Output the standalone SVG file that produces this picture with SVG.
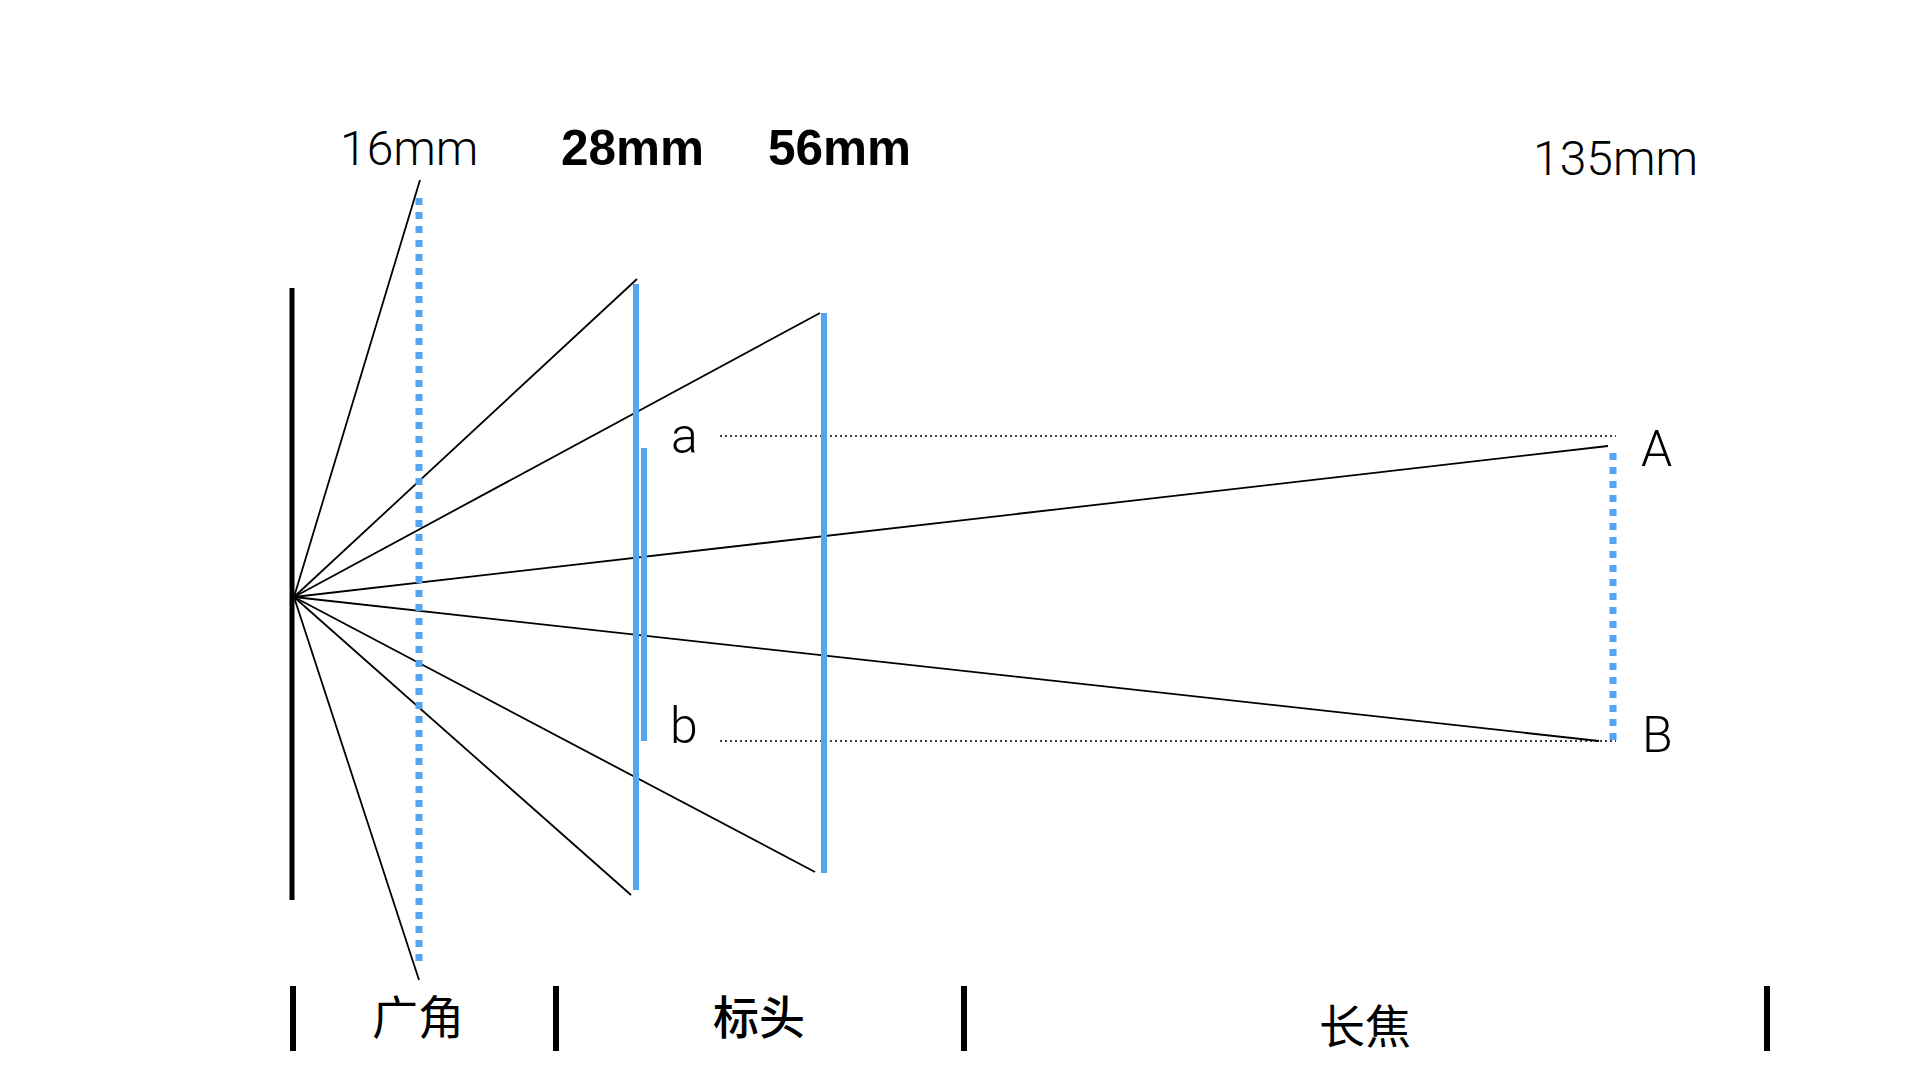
<svg xmlns="http://www.w3.org/2000/svg" width="1920" height="1080" viewBox="0 0 1920 1080">
<style>
.ray{stroke:#000;stroke-width:1.8;fill:none}
.bar{stroke:#000;stroke-width:6;fill:none}
.sensor{stroke:#55a4f1;stroke-width:6;fill:none}
.sensordot{stroke:#55a4f1;stroke-width:7;stroke-dasharray:7 7;fill:none}
.guide{stroke:#000;stroke-width:1.6;stroke-dasharray:2 3;fill:none}
.lbl{font-family:Roboto,"Liberation Sans",sans-serif;font-weight:300;font-size:48px;fill:#000}
.lblb{font-family:"Liberation Sans",Arial,sans-serif;font-weight:bold;font-size:49.5px;fill:#000}
.pt{font-family:Roboto,"Liberation Sans",sans-serif;font-weight:300;font-size:50px;fill:#000}
.cjk{font-family:"Noto Sans CJK SC",sans-serif;font-size:46px;fill:#000;text-anchor:middle}
</style>
<g id="connectors">
<line class="ray" x1="294" y1="597" x2="420" y2="180"/>
<line class="ray" x1="294" y1="597" x2="419" y2="980"/>
<line class="ray" x1="294" y1="597" x2="637" y2="279"/>
<line class="ray" x1="294" y1="597" x2="631" y2="895"/>
<line class="ray" x1="294" y1="597" x2="820" y2="313"/>
<line class="ray" x1="294" y1="597" x2="815" y2="872"/>
<line class="ray" x1="294" y1="597" x2="1608" y2="446"/>
<line class="ray" x1="294" y1="597" x2="1599" y2="741"/>
<line class="guide" x1="720" y1="436" x2="1616" y2="436"/>
<line class="guide" x1="720" y1="741" x2="1616" y2="741"/>
</g>
<g id="lens-plane">
<line class="bar" x1="292" y1="288" x2="292" y2="900" style="stroke-width:5"/>
</g>
<g id="sensor-16mm">
<line class="sensordot" x1="419" y1="198" x2="419" y2="964"/>
<text class="lbl" x="340" y="165">16mm</text>
</g>
<g id="sensor-28mm">
<line class="sensor" x1="636" y1="284" x2="636" y2="890"/>
<line class="sensor" x1="644" y1="448" x2="644" y2="741"/>
<text class="lblb" x="561" y="165">28mm</text>
</g>
<g id="sensor-56mm">
<line class="sensor" x1="824" y1="313" x2="824" y2="873"/>
<text class="lblb" x="768" y="165">56mm</text>
</g>
<g id="sensor-135mm">
<line class="sensordot" x1="1613" y1="453" x2="1613" y2="745"/>
<text class="lbl" x="1533" y="175">135mm</text>
</g>
<g id="point-a"><text class="pt" x="671" y="453">a</text></g>
<g id="point-b"><text class="pt" x="670" y="743">b</text></g>
<g id="point-A"><text class="pt" x="1641" y="466">A</text></g>
<g id="point-B"><text class="pt" x="1642" y="752">B</text></g>
<g id="scale">
<line class="bar" x1="293" y1="986" x2="293" y2="1051"/>
<line class="bar" x1="556" y1="986" x2="556" y2="1051"/>
<line class="bar" x1="964" y1="986" x2="964" y2="1051"/>
<line class="bar" x1="1767" y1="986" x2="1767" y2="1051"/>
</g>
<g id="range-wide"><text class="cjk" x="418" y="1034">广角</text></g>
<g id="range-standard"><text class="cjk" x="759" y="1034" font-weight="500">标头</text></g>
<g id="range-tele"><text class="cjk" x="1365" y="1043">长焦</text></g>
</svg>
